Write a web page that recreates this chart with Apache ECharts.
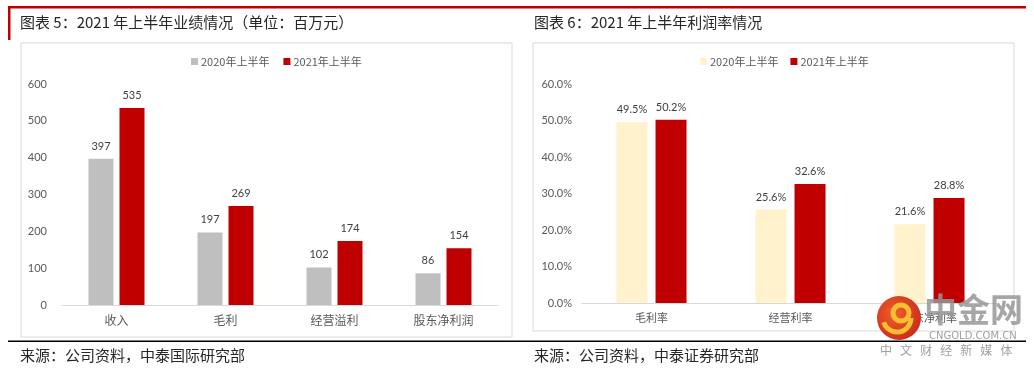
<!DOCTYPE html>
<html>
<head>
<meta charset="utf-8">
<script src="https://cdn.jsdelivr.net/npm/echarts@6/dist/echarts.min.js"></script>
<style>
html,body{margin:0;padding:0;background:#fff;}
#c{width:1034px;height:368px;}
</style>
</head>
<body>
<div id="c"></div>
<script>
// ---- data ----
const leftCategories = ['收入', '毛利', '经营溢利', '股东净利润'];
const leftSeries2020 = [397, 197, 102, 86];
const leftSeries2021 = [535, 269, 174, 154];
const leftTicks = [0, 100, 200, 300, 400, 500, 600];

const rightCategories = ['毛利率', '经营利率', '股东净利率'];
const rightSeries2020 = [49.5, 25.6, 21.6];
const rightSeries2021 = [50.2, 32.6, 28.8];
const rightTicks = [0, 10, 20, 30, 40, 50, 60];

const seriesNames = ['2020年上半年', '2021年上半年'];
const leftTitle = '图表 5：2021 年上半年业绩情况（单位：百万元）';
const rightTitle = '图表 6：2021 年上半年利润率情况';
const leftSource = '来源：公司资料，中泰国际研究部';
const rightSource = '来源：公司资料，中泰证券研究部';

const FONT = 'Lato, "Noto Sans CJK SC", sans-serif';
const CJK = '"Noto Sans CJK SC", sans-serif';
const RED = '#C00000', GRAY = '#BFBFBF', CREAM = '#FFF2CC';

const chart = echarts.init(document.getElementById('c'));

const labelStyle = {show: true, position: 'top', distance: 7, color: '#404040', fontSize: 11, fontFamily: FONT};

const option = {
  animation: false,
  textStyle: {fontFamily: FONT},
  legend: [
    {data: seriesNames.map(n => ({name: n})), left: 186, top: 51, itemWidth: 7, itemHeight: 7, itemGap: 14,
     icon: 'rect', textStyle: {fontSize: 11, color: '#595959', fontFamily: CJK, padding: [0,0,0,-2]}, selectedMode: false},
    {data: seriesNames.map(n => ({name: n + ' '})), left: 695, top: 51, itemWidth: 7, itemHeight: 7, itemGap: 12,
     icon: 'rect', textStyle: {fontSize: 11, color: '#595959', fontFamily: CJK, padding: [0,0,0,-2]}, selectedMode: false,
     formatter: n => n.trim()}
  ],
  grid: [
    {left: 62, right: 536, top: 84, bottom: 63},
    {left: 582, right: 35, top: 84, bottom: 65}
  ],
  xAxis: [
    {type: 'category', gridIndex: 0, data: leftCategories,
     axisLine: {lineStyle: {color: '#D9D9D9'}}, axisTick: {show: false},
     axisLabel: {color: '#595959', fontSize: 12, fontFamily: CJK, margin: 9}},
    {type: 'category', gridIndex: 1, data: rightCategories,
     axisLine: {lineStyle: {color: '#D9D9D9'}}, axisTick: {show: false},
     axisLabel: {color: '#595959', fontSize: 11, fontFamily: CJK, margin: 9}}
  ],
  yAxis: [
    {type: 'value', gridIndex: 0, min: leftTicks[0], max: leftTicks[leftTicks.length-1], interval: leftTicks[1]-leftTicks[0],
     axisLine: {show: false}, axisTick: {show: false}, splitLine: {show: false},
     axisLabel: {color: '#595959', fontSize: 11, margin: 15}},
    {type: 'value', gridIndex: 1, min: rightTicks[0], max: rightTicks[rightTicks.length-1], interval: rightTicks[1]-rightTicks[0],
     axisLine: {show: false}, axisTick: {show: false}, splitLine: {show: false},
     axisLabel: {color: '#595959', fontSize: 11, margin: 10, formatter: v => v.toFixed(1) + '%'}}
  ],
  series: [
    {name: seriesNames[0], type: 'bar', xAxisIndex: 0, yAxisIndex: 0, data: leftSeries2020,
     itemStyle: {color: GRAY}, barWidth: 25, barGap: '24%', label: labelStyle},
    {name: seriesNames[1], type: 'bar', xAxisIndex: 0, yAxisIndex: 0, data: leftSeries2021,
     itemStyle: {color: RED}, barWidth: 25, barGap: '24%', label: labelStyle},
    {name: seriesNames[0] + ' ', type: 'bar', xAxisIndex: 1, yAxisIndex: 1, data: rightSeries2020,
     itemStyle: {color: CREAM}, barWidth: 31, barGap: '26%', label: Object.assign({}, labelStyle, {formatter: p => p.value.toFixed(1) + '%'})},
    {name: seriesNames[1] + ' ', type: 'bar', xAxisIndex: 1, yAxisIndex: 1, data: rightSeries2021,
     itemStyle: {color: RED}, barWidth: 31, barGap: '26%', label: Object.assign({}, labelStyle, {formatter: p => p.value.toFixed(1) + '%'})}
  ],
  graphic: [
    // red top lines
    {type: 'rect', shape: {x: 8, y: 6, width: 1018, height: 2.5}, style: {fill: RED}, silent: true},
    {type: 'rect', shape: {x: 8, y: 6, width: 2.5, height: 34}, style: {fill: RED}, silent: true},
    // titles
    {type: 'text', left: 20, top: 15, style: {text: leftTitle, fill: '#262626', fontSize: 15, fontFamily: CJK}},
    {type: 'text', left: 534, top: 15, style: {text: rightTitle, fill: '#262626', fontSize: 15, fontFamily: CJK}},
    // boxes
    {type: 'rect', shape: {x: 21, y: 43, width: 491, height: 294}, style: {fill: 'none', stroke: '#D9D9D9', lineWidth: 1}, silent: true, z: -1},
    {type: 'rect', shape: {x: 533, y: 43, width: 481, height: 288}, style: {fill: 'none', stroke: '#D9D9D9', lineWidth: 1}, silent: true, z: -1},
    // bottom black line
    {type: 'rect', shape: {x: 8, y: 340.5, width: 1018, height: 1.5}, style: {fill: '#000'}, silent: true},
    // sources
    {type: 'text', left: 20, top: 348, style: {text: leftSource, fill: '#262626', fontSize: 15, fontFamily: CJK}},
    {type: 'text', left: 534, top: 348, style: {text: rightSource, fill: '#262626', fontSize: 15, fontFamily: CJK}},
    // watermark
    {type: 'circle', shape: {cx: 899, cy: 318, r: 22}, z: 100,
     style: {fill: new echarts.graphic.RadialGradient(0.4, 0.4, 0.7, [{offset: 0, color: '#F0602A'}, {offset: 1, color: '#C8281A'}])}},
    {type: 'arc', shape: {cx: 901, cy: 313, r: 8, startAngle: 0, endAngle: Math.PI * 2}, z: 101,
     style: {stroke: '#F8C030', lineWidth: 5, fill: 'none'}},
    {type: 'arc', shape: {cx: 897, cy: 318, r: 14, startAngle: 0, endAngle: Math.PI * 0.9}, z: 101,
     style: {stroke: '#F8C030', lineWidth: 5, fill: 'none'}},
    {type: 'text', left: 924, top: 293, z: 100, style: {text: '中金网', fill: 'rgba(150,150,150,0.85)', fontSize: 33, fontWeight: 'bold', fontFamily: CJK}},
    {type: 'text', left: 929, top: 331, z: 100, style: {text: 'CNGOLD.COM.CN', fill: 'rgba(150,150,150,0.9)', fontSize: 10, fontFamily: 'DejaVu Sans, sans-serif'}},
    {type: 'text', left: 880, top: 344, z: 100, style: {text: '中   文   财   经   新   媒   体', fill: 'rgba(150,150,150,0.9)', fontSize: 12, fontFamily: CJK}}
  ]
};
chart.setOption(option);
</script>
</body>
</html>
